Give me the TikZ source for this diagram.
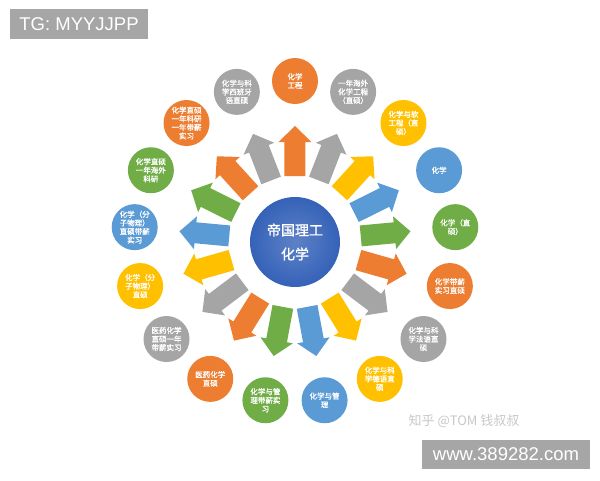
\documentclass[tikz,border=0pt]{standalone}
\usepackage{fontspec}
\setmainfont{Liberation Sans}
\newfontfamily\cjk{Noto Sans CJK SC}
\newfontfamily\cjkb{Noto Sans CJK SC}[FakeBold=1.2]
\definecolor{chemorange}{HTML}{ED7D31}
\definecolor{chemgrey}{HTML}{A5A5A5}
\definecolor{chemyellow}{HTML}{FFC000}
\definecolor{chemblue}{HTML}{5B9BD5}
\definecolor{chemgreen}{HTML}{70AD47}
\definecolor{hubblue}{HTML}{3562B8}
\definecolor{tagbox}{HTML}{A6A6A6}
\tikzset{every node/.style={font=\cjk},
  bubble/.style={circle,minimum size=46pt,inner sep=0pt,align=center,
    text=white,font=\cjkb\fontsize{7.5}{8.6}\selectfont},
  hub/.style={circle,minimum size=90pt,inner sep=0pt,align=center,
    text=white,inner color=hubblue!80!white,outer color=hubblue,
    font=\cjkb\fontsize{14}{24}\selectfont},
  tag/.style={fill=tagbox,text=white,inner sep=0pt,font=\fontsize{18.5}{20}\selectfont}}

\begin{document}
\begin{tikzpicture}[x=1pt,y=1pt]
\useasboundingbox (-295,-238) rectangle (305,242);
% arrows out of the hub
\foreach \col [count=\i from 0] in {chemorange,chemgrey,chemyellow,chemblue,chemgreen,
  chemorange,chemgrey,chemyellow,chemblue,chemgreen,
  chemorange,chemgrey,chemyellow,chemblue,chemgreen,chemorange,chemgrey}
  \fill[\col,rotate=90-\i*360/17] (66,-10.5) -- (100,-10.5) -- (100,-16.5) -- (116,0)
     -- (100,16.5) -- (100,10.5) -- (66,10.5) -- cycle;
\node[hub] (hub) at (0,0) {帝国理工\\化学};
% programmes around the ring
\foreach \col/\txt [count=\i from 0] in {
  chemorange/{化学\\工程},
  chemgrey/{一年海外\\化学工程\\（直硕）},
  chemyellow/{化学与软\\工程（直\\硕）},
  chemblue/{化学},
  chemgreen/{化学（直\\硕）},
  chemorange/{化学带薪\\实习直硕},
  chemgrey/{化学与科\\学法语直\\硕},
  chemyellow/{化学与科\\学德语直\\硕},
  chemblue/{化学与管\\理},
  chemgreen/{化学与管\\理带薪实\\习},
  chemorange/{医药化学\\直硕},
  chemgrey/{医药化学\\直硕一年\\带薪实习},
  chemyellow/{化学（分\\子物理）\\直硕},
  chemblue/{化学（分\\子物理）\\直硕带薪\\实习},
  chemgreen/{化学直硕\\一年海外\\科研},
  chemorange/{化学直硕\\一年科研\\一年带薪\\实习},
  chemgrey/{化学与科\\学西班牙\\语直硕}}
  \node[bubble,fill=\col] (p\i) at (90-\i*360/17:161) {\txt};
\node[tag,minimum width=138pt,minimum height=30pt] (tg) at (-216,218) {TG: MYYJJPP};
\node[tag,minimum width=168pt,minimum height=29pt] (web) at (211,-212.5) {www.389282.com};
\node[text=black!22,font=\cjk\fontsize{13}{15}\selectfont] (mark) at (169,-179) {知乎 @TOM 钱叔叔};
\end{tikzpicture}
\end{document}
